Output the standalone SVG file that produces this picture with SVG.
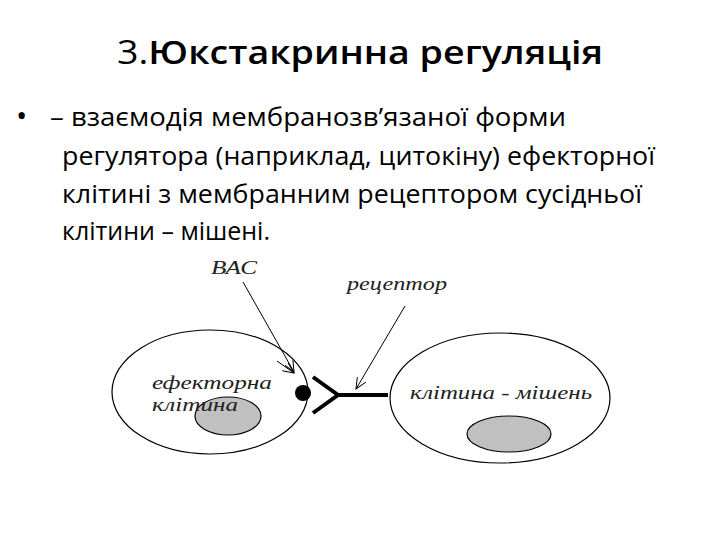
<svg xmlns="http://www.w3.org/2000/svg" width="720" height="540" viewBox="0 0 720 540">
<style>
.t{font-family:"Open Sans","Liberation Sans",sans-serif;fill:#000}
.b{font-size:26px}
.l{font-family:"Liberation Serif",serif;font-style:italic;font-size:18px;fill:#222}
.cell{fill:#fff;stroke:#000;stroke-width:1.2}
.nuc{fill:#c0c0c0;stroke:#000;stroke-width:1.2}
.c{stroke:#000;stroke-width:1;fill:none}
</style>
<defs><marker id="a" markerWidth="12" markerHeight="10" refX="11" refY="5" orient="auto" markerUnits="userSpaceOnUse"><path d="M0,0 L11,5 L0,10" fill="none" stroke="#000"/></marker></defs>
<rect width="720" height="540" fill="#fff"/>
<text class="t" x="117" y="64" font-size="32" textLength="486" lengthAdjust="spacingAndGlyphs">3.<tspan font-weight="600">Юкстакринна регуляція</tspan></text>
<text class="t" x="16" y="126" font-size="30">•</text>
<text class="t b" x="50" y="126" textLength="516" lengthAdjust="spacingAndGlyphs">– взаємодія мембранозв’язаної форми</text>
<text class="t b" x="62" y="165" textLength="593" lengthAdjust="spacingAndGlyphs">регулятора (наприклад, цитокіну) ефекторної</text>
<text class="t b" x="62" y="203" textLength="580" lengthAdjust="spacingAndGlyphs">клітині з мембранним рецептором сусідньої</text>
<text class="t b" x="62" y="240" textLength="208" lengthAdjust="spacingAndGlyphs">клітини – мішені.</text>
<g id="effector"><ellipse class="cell" cx="210" cy="392" rx="98" ry="62"/><ellipse class="nuc" cx="228" cy="416" rx="33" ry="19"/>
<text class="l" x="152" y="389" textLength="120" lengthAdjust="spacingAndGlyphs">ефекторна</text><text class="l" x="152" y="411" textLength="86" lengthAdjust="spacingAndGlyphs">клітина</text></g>
<g id="target"><ellipse class="cell" cx="500" cy="398" rx="110" ry="65"/><ellipse class="nuc" cx="509" cy="434" rx="42" ry="18"/>
<text class="l" x="410" y="399" textLength="182" lengthAdjust="spacingAndGlyphs">клітина - мішень</text></g>
<g id="bac"><circle cx="303" cy="393" r="8" fill="#000"/><text class="l" x="211" y="274" textLength="46" lengthAdjust="spacingAndGlyphs">ВАС</text></g>
<g id="receptor"><path d="M313,377 L338,395 L313,413 M338,395 L388,395" fill="none" stroke="#000" stroke-width="4"/><text class="l" x="347" y="290" textLength="100" lengthAdjust="spacingAndGlyphs">рецептор</text></g>
<g id="connectors">
<line class="c" x1="243" y1="282" x2="294" y2="372" marker-end="url(#a)"/>
<line class="c" x1="277" y1="361" x2="294" y2="373" marker-end="url(#a)"/>
<line class="c" x1="405" y1="306" x2="356" y2="389" marker-end="url(#a)"/>
</g>
</svg>
